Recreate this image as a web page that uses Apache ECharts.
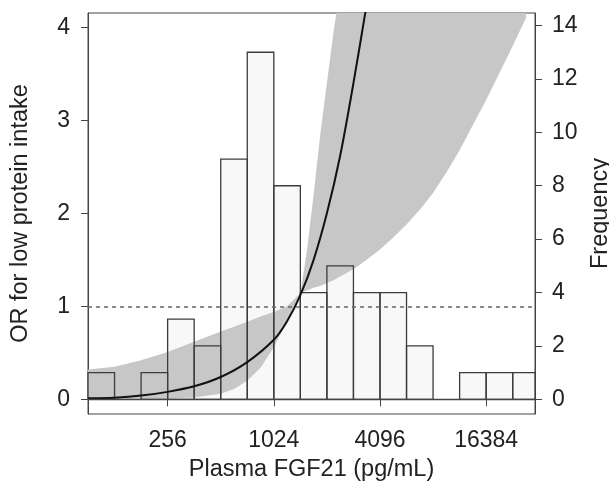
<!DOCTYPE html>
<html>
<head>
<meta charset="utf-8">
<script src="https://cdn.jsdelivr.net/npm/echarts@6/dist/echarts.min.js"></script>
<style>
  html, body { margin: 0; padding: 0; background: #fff; }
  #main { width: 609px; height: 483px; }
</style>
</head>
<body>
<div id="main"></div>
<script>
// histogram of log2(FGF21), bins 0.5 wide
var binStart = [6.5, 7, 7.5, 8, 8.5, 9, 9.5, 10, 10.5, 11, 11.5, 12, 12.5, 13, 13.5, 14, 14.5];
var binCount = [1, 0, 1, 3, 2, 9, 13, 8, 4, 5, 4, 4, 2, 0, 1, 1, 1];
var binWidth = 0.5;

// fitted OR curve
var curveX  = [6.5, 7, 7.5, 8, 8.5, 9, 9.5, 10, 10.25, 10.5, 10.75, 11, 11.25, 11.5, 11.75];
var curveOR = [0.011, 0.018, 0.04, 0.08, 0.14, 0.24, 0.40, 0.64, 0.84, 1.12, 1.5, 2.0, 2.62, 3.4, 4.25];

// confidence band, lower and upper edge (upper is cut at the plot top, 4.155)
var bandX    = [6.5, 7, 7.5, 8, 8.5, 9, 9.25, 9.5, 9.75, 10, 10.25, 10.5, 10.625, 10.75, 10.875, 11, 11.125, 11.18, 11.5, 11.75, 12, 12.25, 12.5, 12.75, 13, 13.25, 13.5, 13.75, 14, 14.25, 14.5, 14.75];
var bandLow  = [0, 0, 0.005, 0.01, 0.02, 0.06, 0.11, 0.2, 0.34, 0.56, 0.84, 1.14, 1.17, 1.2, 1.22, 1.25, 1.28, 1.30, 1.40, 1.50, 1.61, 1.74, 1.88, 2.04, 2.22, 2.44, 2.68, 2.95, 3.22, 3.51, 3.80, 4.10];
var bandHigh = [0.32, 0.35, 0.42, 0.51, 0.62, 0.73, 0.78, 0.835, 0.89, 0.94, 1.0, 1.14, 1.6, 2.2, 2.85, 3.4, 3.95, 4.155, 4.155, 4.155, 4.155, 4.155, 4.155, 4.155, 4.155, 4.155, 4.155, 4.155, 4.155, 4.155, 4.155, 4.155];

var xTicks = [8, 10, 12, 14];      // log2 -> 256, 1024, 4096, 16384
var orTicks = [0, 1, 2, 3, 4];
var freqTicks = [0, 2, 4, 6, 8, 10, 12, 14];

var textColor = '#222';
var font = 'Liberation Sans, Arial, sans-serif';
var labelSize = 23;
var titleSize = 23.5;

var myChart = echarts.init(document.getElementById('main'));

function pairs(xs, ys) {
  return xs.map(function (x, i) { return [x, ys[i]]; });
}

function barRect(params, api) {
  var n = api.value(2);
  if (!n) return null;
  var p0 = api.coord([api.value(0), n]);
  var p1 = api.coord([api.value(1), 0]);
  return echarts.graphic.clipRectByRect(
    { x: p0[0], y: p0[1], width: p1[0] - p0[0], height: p1[1] - p0[1] },
    { x: params.coordSys.x, y: params.coordSys.y, width: params.coordSys.width, height: params.coordSys.height }
  );
}

var barData = binStart.map(function (s, i) { return [s, s + binWidth, binCount[i]]; });

var option = {
  animation: false,
  grid: {
    left: 88, right: 74, top: 13, bottom: 69,
    containLabel: false,
    outerBoundsMode: 'none',
    show: true, borderColor: '#444', borderWidth: 1, backgroundColor: 'transparent'
  },
  xAxis: {
    type: 'value',
    min: 6.5,
    max: 14.92,
    name: 'Plasma FGF21 (pg/mL)',
    nameLocation: 'middle',
    nameGap: 44,
    nameTextStyle: { color: textColor, fontSize: titleSize, fontFamily: font },
    axisLine: { show: true, lineStyle: { color: '#444', width: 1 } },
    axisTick: { show: true, inside: false, length: 7, customValues: xTicks, lineStyle: { color: '#444' } },
    axisLabel: {
      customValues: xTicks, margin: 15, color: textColor, fontSize: labelSize, fontFamily: font,
      formatter: function (v) { return String(Math.round(Math.pow(2, v))); }
    },
    splitLine: { show: false }
  },
  yAxis: [
    {
      type: 'value',
      position: 'left',
      min: -0.158,
      max: 4.155,
      name: 'OR for low protein intake',
      nameLocation: 'middle',
      nameRotate: 90,
      nameGap: 55,
      nameTextStyle: { color: textColor, fontSize: titleSize, fontFamily: font },
      axisLine: { show: true, lineStyle: { color: '#444', width: 1 } },
      axisTick: { show: true, length: 7, customValues: orTicks, lineStyle: { color: '#444' } },
      axisLabel: { customValues: orTicks, margin: 18, color: textColor, fontSize: labelSize, fontFamily: font },
      splitLine: { show: false }
    },
    {
      type: 'value',
      position: 'right',
      min: -0.55,
      max: 14.47,
      name: 'Frequency',
      nameLocation: 'middle',
      nameRotate: 90,
      nameGap: 54,
      nameTextStyle: { color: textColor, fontSize: titleSize, fontFamily: font },
      axisLine: { show: true, lineStyle: { color: '#444', width: 1 } },
      axisTick: { show: true, length: 7, customValues: freqTicks, lineStyle: { color: '#444' } },
      axisLabel: { customValues: freqTicks, margin: 17, color: textColor, fontSize: labelSize, fontFamily: font },
      splitLine: { show: false }
    }
  ],
  series: [
    {
      // histogram fill
      type: 'custom',
      yAxisIndex: 1,
      z: 1,
      silent: true,
      renderItem: function (params, api) {
        var r = barRect(params, api);
        if (!r) return null;
        return { type: 'rect', shape: r, style: { fill: '#f8f8f8' } };
      },
      encode: { x: [0, 1], y: 2 },
      data: barData
    },
    {
      // confidence band polygon
      type: 'custom',
      z: 2,
      silent: true,
      renderItem: function (params, api) {
        var pts = [];
        for (var i = 0; i < bandX.length; i++) pts.push(api.coord([bandX[i], bandLow[i]]));
        for (var j = bandX.length - 1; j >= 0; j--) pts.push(api.coord([bandX[j], bandHigh[j]]));
        return { type: 'polygon', shape: { points: pts }, style: { fill: '#c7c7c7' } };
      },
      encode: { x: 0, y: 1 },
      data: [[bandX[0], bandLow[0]]]
    },
    {
      // histogram outlines
      type: 'custom',
      yAxisIndex: 1,
      z: 3,
      silent: true,
      renderItem: function (params, api) {
        var r = barRect(params, api);
        if (!r) return null;
        return { type: 'rect', shape: r, style: { fill: 'transparent', stroke: '#3c3c3c', lineWidth: 1.3 } };
      },
      encode: { x: [0, 1], y: 2 },
      data: barData
    },
    {
      type: 'line',
      z: 4,
      symbol: 'none',
      silent: true,
      smooth: 0.3,
      lineStyle: { color: '#111', width: 2 },
      data: pairs(curveX, curveOR),
      markLine: {
        silent: true,
        symbol: 'none',
        label: { show: false },
        data: [
          { yAxis: 1, lineStyle: { color: '#666', width: 1.6, type: [4, 4] } },
          { yAxis: 0, lineStyle: { color: '#444', width: 1.4, type: 'solid' } }
        ]
      }
    }
  ]
};

myChart.setOption(option);
</script>
</body>
</html>
